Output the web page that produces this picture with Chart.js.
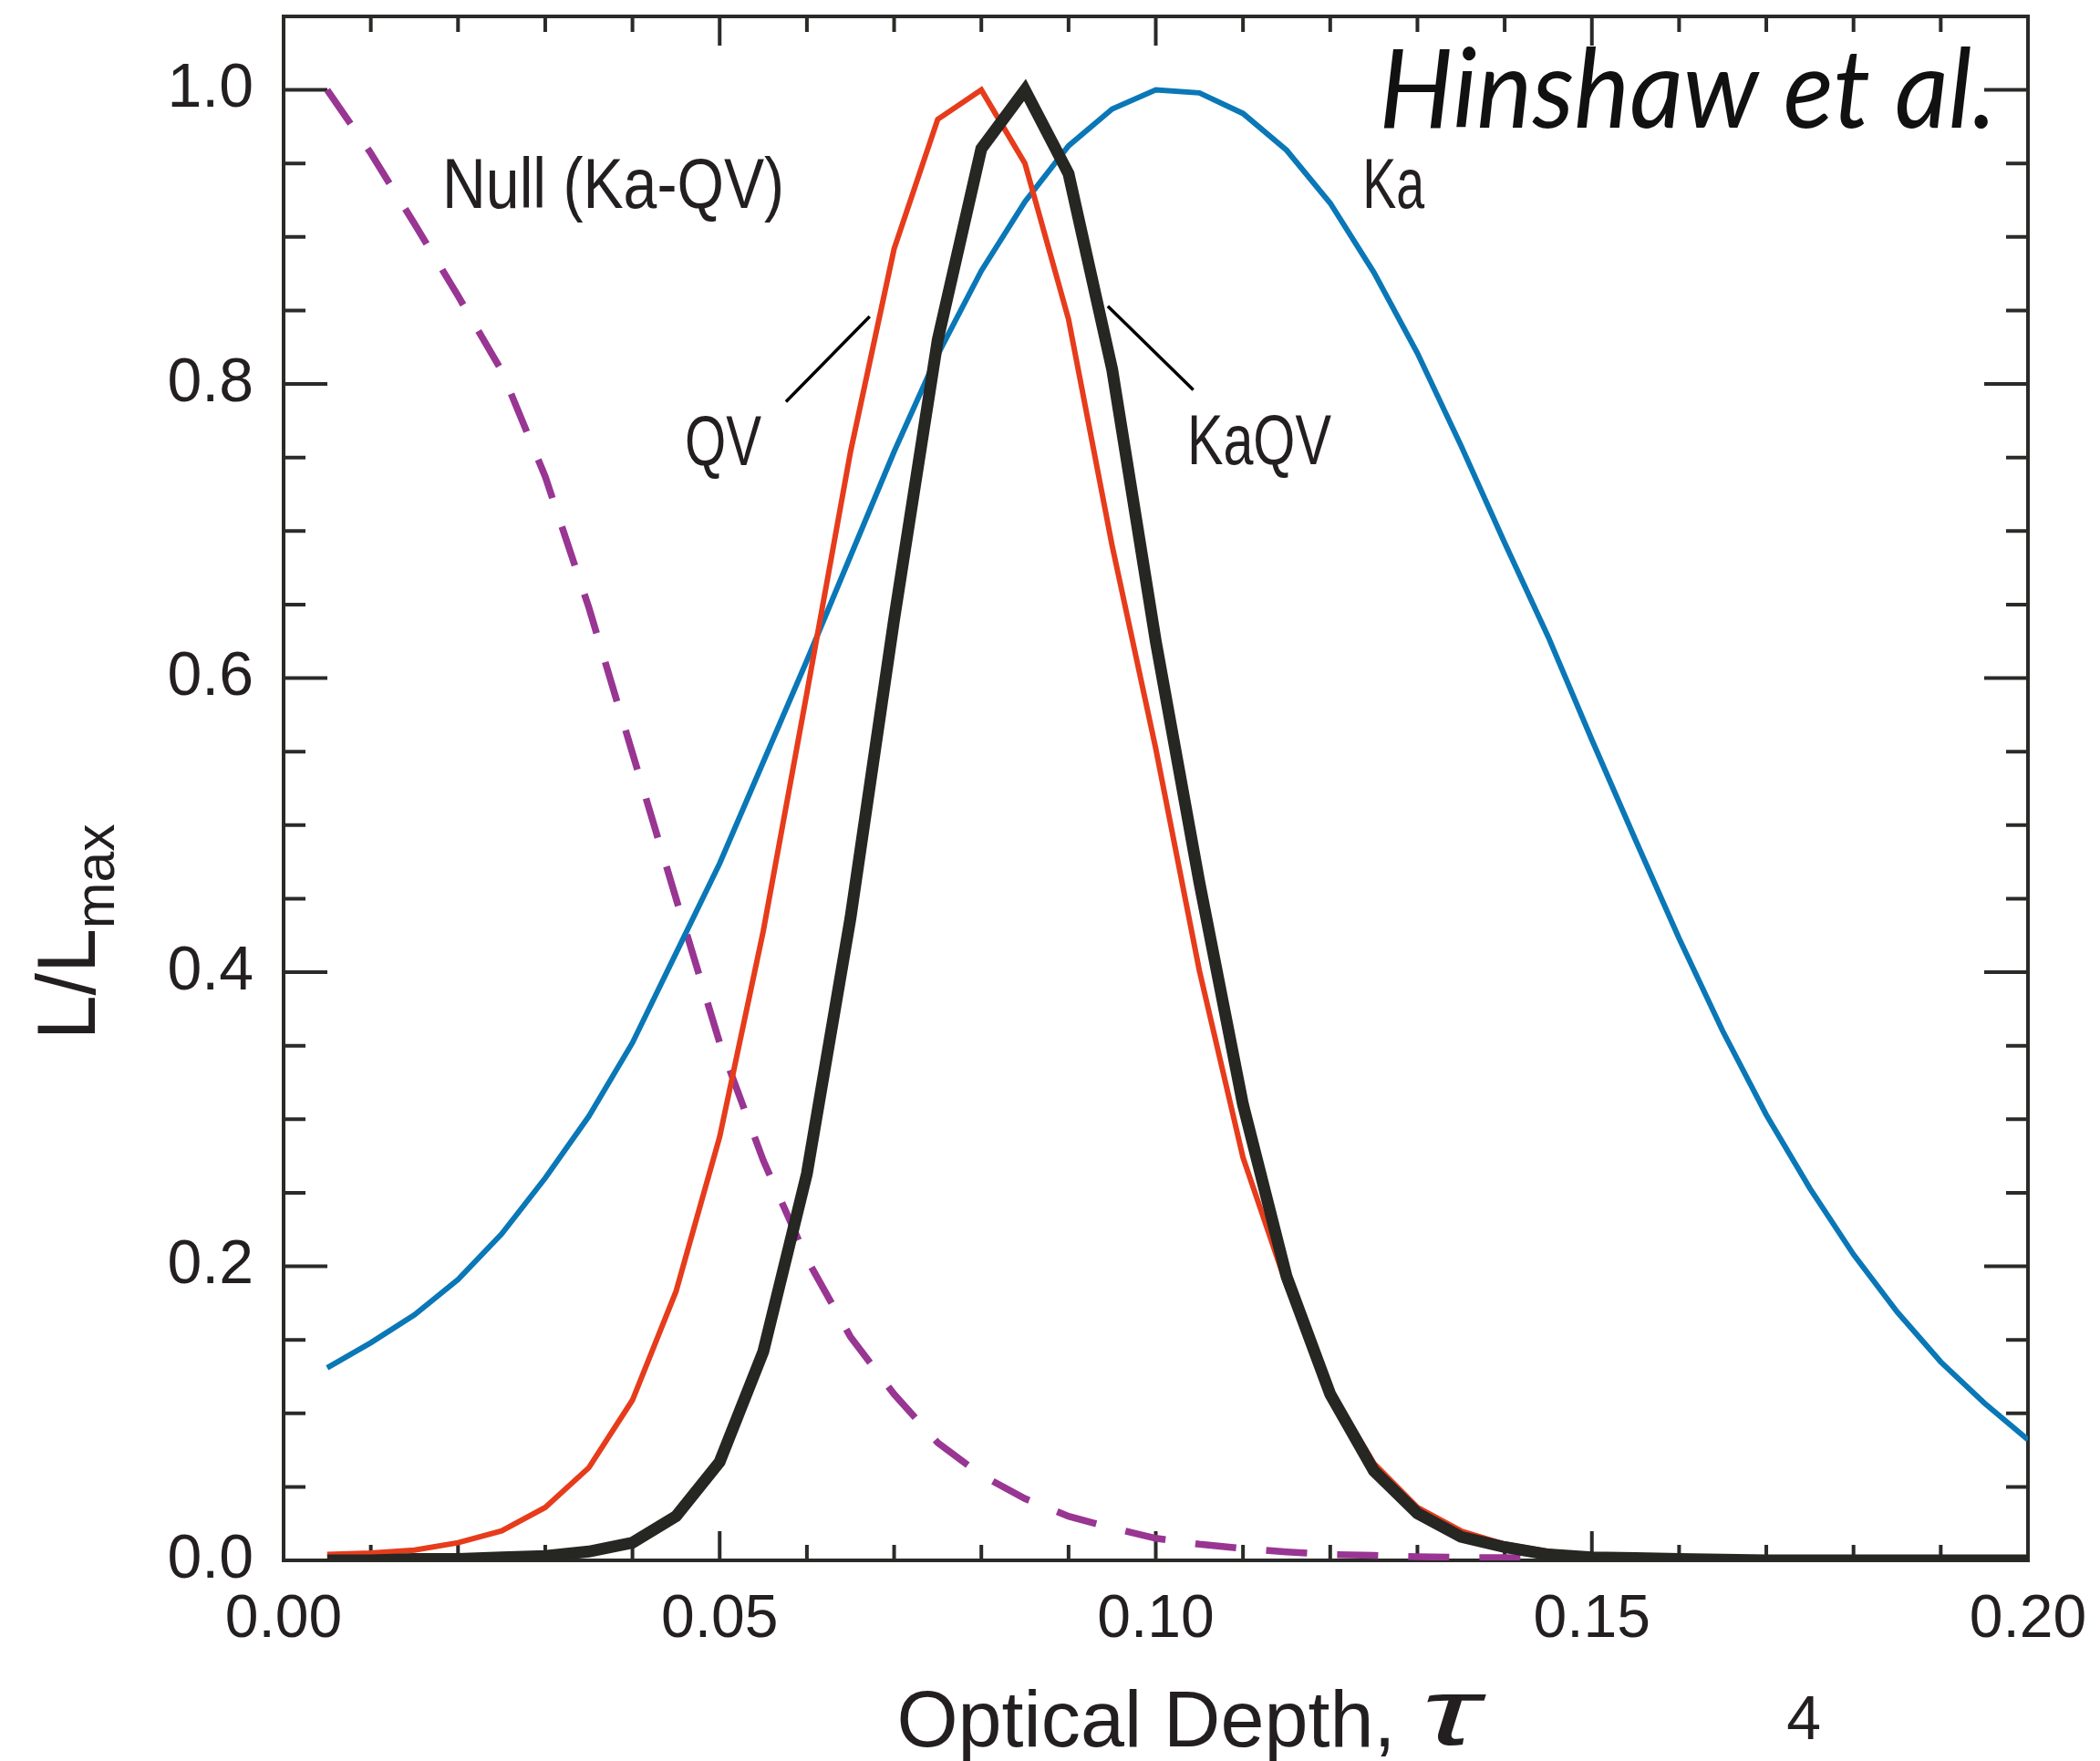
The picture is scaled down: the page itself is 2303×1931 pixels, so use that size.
<!DOCTYPE html>
<html>
<head>
<meta charset="utf-8">
<title>L/Lmax vs optical depth</title>
<script src="https://cdn.jsdelivr.net/npm/chart.js@4.4.1/dist/chart.umd.min.js"></script>
<style>
  html, body { margin: 0; padding: 0; background: #fff; }
  #wrap { width: 2303px; height: 1931px; position: relative; }
</style>
</head>
<body>
<div id="wrap"><canvas id="tauChart"></canvas></div>
<script>
// optical depth grid (0.005 steps) and the four likelihood curves
var tau = [0.005, 0.010, 0.015, 0.020, 0.025, 0.030, 0.035, 0.040, 0.045, 0.050,
	0.055, 0.060, 0.065, 0.070, 0.075, 0.080, 0.085, 0.090, 0.095, 0.100,
	0.105, 0.110, 0.115, 0.120, 0.125, 0.130, 0.135, 0.140, 0.145, 0.150,
	0.155, 0.160, 0.165, 0.170, 0.175, 0.180, 0.185, 0.190, 0.195, 0.200];

var ka = [0.131, 0.148, 0.167, 0.191, 0.222, 0.260, 0.302, 0.352, 0.413, 0.474,
	0.543, 0.612, 0.683, 0.754, 0.820, 0.877, 0.924, 0.962, 0.987, 1.000,
	0.998, 0.984, 0.959, 0.923, 0.876, 0.821, 0.758, 0.692, 0.628, 0.558,
	0.490, 0.423, 0.360, 0.303, 0.253, 0.208, 0.169, 0.135, 0.107, 0.082];

var qv = [0.004, 0.005, 0.007, 0.012, 0.020, 0.036, 0.063, 0.109, 0.183, 0.288,
	0.428, 0.590, 0.754, 0.892, 0.980, 1.000, 0.950, 0.844, 0.690, 0.552,
	0.401, 0.274, 0.187, 0.116, 0.066, 0.036, 0.020, 0.011, 0.006, 0.003,
	0.002, 0.001, 0.001, 0.0005, 0, 0, 0, 0, 0, 0];

var kaqv = [0.000, 0.000, 0.001, 0.001, 0.002, 0.003, 0.006, 0.012, 0.030, 0.067,
	0.142, 0.263, 0.437, 0.640, 0.830, 0.960, 1.000, 0.943, 0.810, 0.625,
	0.461, 0.310, 0.193, 0.113, 0.061, 0.032, 0.016, 0.009, 0.004, 0.002,
	0.0015, 0.001, 0.0005, 0, 0, 0, 0, 0, 0, 0];

var nullKaQV = [1.000, 0.957, 0.909, 0.860, 0.809, 0.737, 0.648, 0.549, 0.450, 0.352,
	0.272, 0.205, 0.152, 0.113, 0.080, 0.058, 0.042, 0.030, 0.022, 0.015,
	0.011, 0.008, 0.0057, 0.004, 0.0034, 0.0025, 0.002, 0.0018, 0.0015, 0.001,
	0.001, 0.001, 0.0008, 0.0006, 0.0005, 0.0004, 0.0003, 0.0002, 0.0001, 0];

var xTicks = [0, 0.05, 0.10, 0.15, 0.20];
var xTickLabels = ['0.00', '0.05', '0.10', '0.15', '0.20'];
var yTicks = [0, 0.2, 0.4, 0.6, 0.8, 1.0];
var yTickLabels = ['0.0', '0.2', '0.4', '0.6', '0.8', '1.0'];

var ink = '#231f20';
var fontSans = '"Liberation Sans", Arial, Helvetica, sans-serif';

function pts(arr) {
	return tau.map(function (t, i) {
		return { x: t, y: arr[i] };
	});
}

// frame and inward ticks on all four sides, under the curves
var frameTicks = {
	id: 'frameTicks',
	beforeDatasetsDraw: function (chart) {
		var ctx = chart.ctx, a = chart.chartArea;
		var xs = chart.scales.x, ys = chart.scales.y;
		var i, px, len;
		ctx.save();
		ctx.strokeStyle = '#2a2a28';
		ctx.lineWidth = 4;
		ctx.strokeRect(a.left, a.top, a.right - a.left, a.bottom - a.top);
		ctx.beginPath();
		for (i = 0; i <= 20; i++) {
			px = xs.getPixelForValue(i * 0.01);
			len = (i % 5 === 0) ? 32 : 17;
			ctx.moveTo(px, a.bottom);
			ctx.lineTo(px, a.bottom - len);
			ctx.moveTo(px, a.top);
			ctx.lineTo(px, a.top + len);
		}
		for (i = 0; i <= 20; i++) {
			px = ys.getPixelForValue(i * 0.05);
			len = (i % 4 === 0) ? 48 : 24;
			ctx.moveTo(a.left, px);
			ctx.lineTo(a.left + len, px);
			ctx.moveTo(a.right, px);
			ctx.lineTo(a.right - len, px);
		}
		ctx.stroke();
		ctx.restore();
	}
};

// curve names, leader lines, axis titles
var curveLabels = [
	{ text: 'Null (Ka-QV)', x: 0.0182, y: 0.920, w: 375 },
	{ text: 'QV', x: 0.0460, y: 0.745, w: 84 },
	{ text: 'KaQV', x: 0.1036, y: 0.7455, w: 158 },
	{ text: 'Ka', x: 0.1237, y: 0.9195, w: 68 }
];
var leaders = [
	[0.0576, 0.788, 0.0672, 0.846],
	[0.0945, 0.853, 0.1043, 0.796]
];

function fitText(ctx, text, x, y, font, width) {
	ctx.font = font;
	var w = ctx.measureText(text).width;
	ctx.save();
	ctx.translate(x, y);
	ctx.scale(width / w, 1);
	ctx.fillText(text, 0, 0);
	ctx.restore();
}

var annotations = {
	id: 'annotations',
	afterDraw: function (chart) {
		var ctx = chart.ctx, a = chart.chartArea;
		var xs = chart.scales.x, ys = chart.scales.y;
		ctx.save();
		ctx.fillStyle = ink;
		ctx.textAlign = 'left';
		ctx.textBaseline = 'alphabetic';

		curveLabels.forEach(function (l) {
			fitText(ctx, l.text, xs.getPixelForValue(l.x), ys.getPixelForValue(l.y),
				'77px ' + fontSans, l.w);
		});

		ctx.strokeStyle = '#000';
		ctx.lineWidth = 3.5;
		ctx.beginPath();
		leaders.forEach(function (s) {
			ctx.moveTo(xs.getPixelForValue(s[0]), ys.getPixelForValue(s[1]));
			ctx.lineTo(xs.getPixelForValue(s[2]), ys.getPixelForValue(s[3]));
		});
		ctx.stroke();

		ctx.fillStyle = '#111';
		fitText(ctx, 'Hinshaw et al.', xs.getPixelForValue(0.1256), ys.getPixelForValue(0.9744),
			'italic 120px Lato, "Open Sans", sans-serif', 677);

		// x title
		ctx.fillStyle = ink;
		var tx = xs.getPixelForValue(0.0703);
		fitText(ctx, 'Optical Depth,', tx, a.bottom + 204, '87px ' + fontSans, 547);
		fitText(ctx, '\u03c4', xs.getPixelForValue(0.1305), a.bottom + 202,
			'italic 104px "Liberation Sans", "DejaVu Sans", sans-serif', 62);
		ctx.font = '68px ' + fontSans;
		ctx.textAlign = 'center';
		ctx.fillText('4', xs.getPixelForValue(0.1743), a.bottom + 196);

		// y title, rotated
		ctx.save();
		ctx.translate(a.left - 207, ys.getPixelForValue(0.354));
		ctx.rotate(-Math.PI / 2);
		ctx.textAlign = 'left';
		ctx.font = '91px ' + fontSans;
		var w1 = ctx.measureText('L/L').width;
		ctx.save();
		ctx.scale(122 / w1, 1);
		ctx.fillText('L/L', 0, 0);
		ctx.restore();
		fitText(ctx, 'max', 122, 21, '61px ' + fontSans, 115);
		ctx.restore();

		ctx.restore();
	}
};

var ctx = document.getElementById('tauChart');
var tauChart = new Chart(ctx, {
	type: 'line',
	data: {
		datasets: [{
			label: 'KaQV',
			data: pts(kaqv),
			borderColor: '#262622',
			borderWidth: 13
		}, {
			label: 'QV',
			data: pts(qv),
			borderColor: '#e63c1c',
			borderWidth: 6
		}, {
			label: 'Ka',
			data: pts(ka),
			borderColor: '#0a77b7',
			borderWidth: 6
		}, {
			label: 'Null (Ka-QV)',
			data: pts(nullKaQV),
			borderColor: '#993592',
			borderWidth: 7.5,
			borderDash: [45, 33]
		}]
	},
	options: {
		responsive: true,
		maintainAspectRatio: false,
		animation: false,
		layout: {
			padding: { left: 0, top: 18, right: 79, bottom: 0 }
		},
		elements: {
			point: { radius: 0 },
			line: { tension: 0, fill: false, borderJoinStyle: 'miter' }
		},
		plugins: {
			legend: { display: false },
			tooltip: { enabled: false }
		},
		scales: {
			x: {
				type: 'linear',
				min: 0,
				max: 0.2,
				grid: { display: false, drawTicks: false },
				border: { display: false },
				afterBuildTicks: function (s) {
					s.ticks = xTicks.map(function (v) { return { value: v }; });
				},
				afterFit: function (s) {
					s.height = 220;
					s.paddingLeft = 0;
					s.paddingRight = 0;
				},
				ticks: {
					autoSkip: false,
					maxRotation: 0,
					padding: 26,
					color: ink,
					font: { family: fontSans, size: 66 },
					callback: function (v, i) { return xTickLabels[i]; }
				}
			},
			y: {
				type: 'linear',
				min: 0,
				max: 1.05,
				grid: { display: false, drawTicks: false },
				border: { display: false },
				afterBuildTicks: function (s) {
					s.ticks = yTicks.map(function (v) { return { value: v }; });
				},
				afterFit: function (s) {
					s.width = 311;
					s.paddingTop = 0;
					s.paddingBottom = 0;
				},
				ticks: {
					autoSkip: false,
					padding: 33,
					color: ink,
					font: { family: fontSans, size: 68 },
					callback: function (v, i) { return yTickLabels[i]; }
				}
			}
		}
	},
	plugins: [frameTicks, annotations]
});
</script>
</body>
</html>
